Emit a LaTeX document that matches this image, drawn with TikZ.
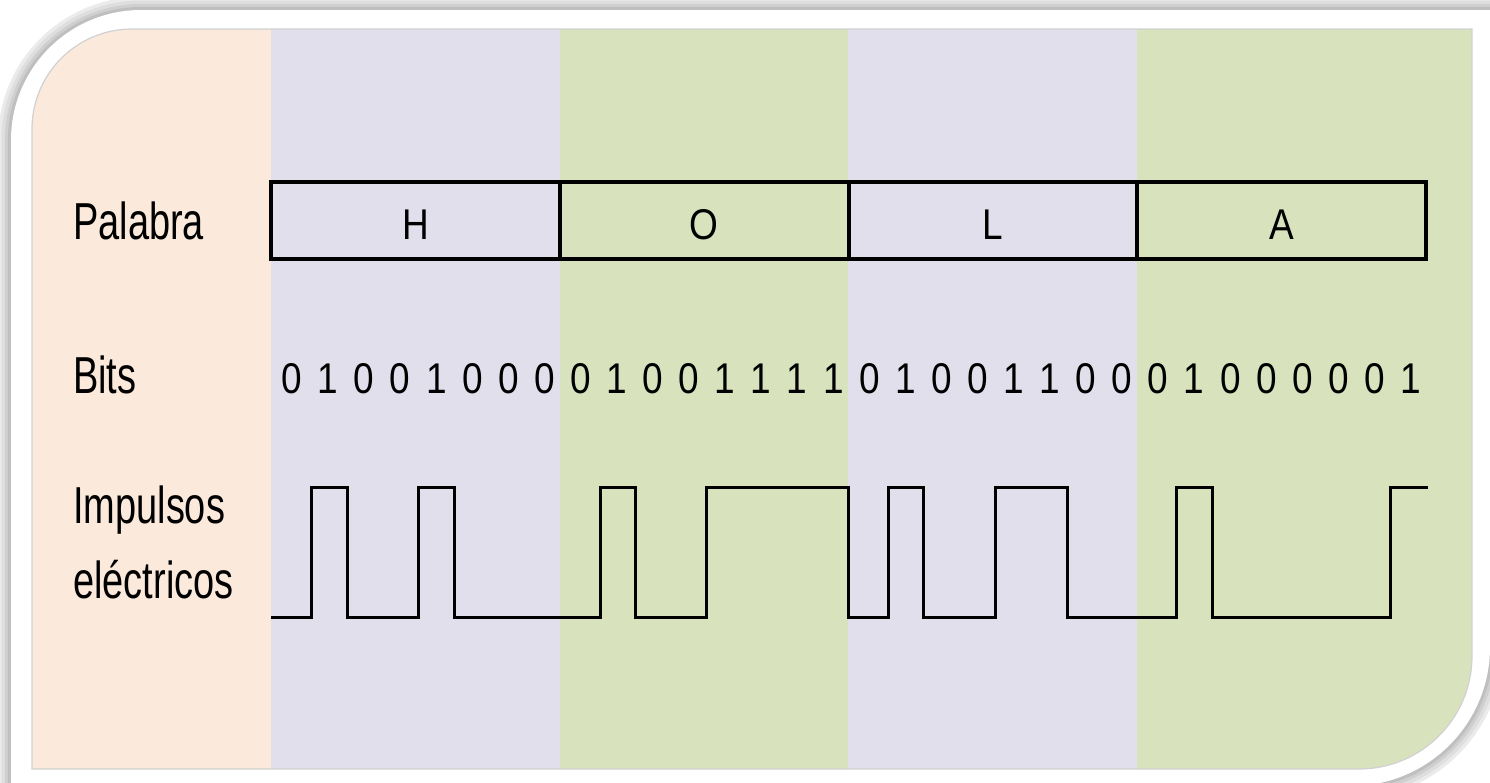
\documentclass[tikz,border=0pt]{standalone}
\usepackage{fontspec}
\setmainfont{Liberation Sans}
\newfontfamily\labelfont[FakeStretch=0.73]{Liberation Sans}
\newfontfamily\boxfont[FakeStretch=0.86]{Liberation Sans}
\usetikzlibrary{positioning}

\definecolor{peach}{HTML}{FBE9DB}
\definecolor{lavender}{HTML}{E2DFEC}
\definecolor{leaf}{HTML}{D8E3BE}

\begin{document}
\begin{tikzpicture}[x=1pt, y=-1pt,
        lbl/.style={font=\labelfont\fontsize{52}{60}\selectfont, anchor=base west, inner sep=0},
        letterbox/.style={draw, line width=4pt, outer sep=0, minimum width=288.75pt,
                minimum height=77pt, inner sep=0, text height=37pt, text depth=0pt,
                font=\boxfont\fontsize{43}{50}\selectfont},
        bit/.style={font=\boxfont\fontsize{43}{50}\selectfont, anchor=base, inner sep=0},
        pulse/.style={line width=3pt}]
        \useasboundingbox (0, 0) rectangle (1490, 782);
        \clip (0, 0) rectangle (1490, 782);

        % soft shadow and white frame
        \foreach \w/\c in {26/8, 19/13, 12/19, 6/25}
                \draw[line width=\w pt, black!\c] (11, 800) -- (11, 140)
                        arc [start angle=180, end angle=270, radius=130] -- (1490, 10) -- (1490, 647)
                        arc [start angle=0, end angle=90, radius=139] -- (1351, 800) -- cycle;
        \fill[white] (11, 800) -- (11, 140)
                arc [start angle=180, end angle=270, radius=130] -- (1490, 10) -- (1490, 647)
                arc [start angle=0, end angle=90, radius=139] -- (1351, 800) -- cycle;

        % coloured columns
        \begin{scope}
                \clip (32, 769) -- (32, 129) arc [start angle=180, end angle=270, radius=100]
                        -- (1472, 29) -- (1472, 656) arc [start angle=0, end angle=90, radius=113] -- cycle;
                \fill[peach] (0, 0) rectangle (271, 782);
                \fill[lavender] (271, 0) rectangle (560, 782);
                \fill[leaf] (560, 0) rectangle (848, 782);
                \fill[lavender] (848, 0) rectangle (1137, 782);
                \fill[leaf] (1137, 0) rectangle (1490, 782);
        \end{scope}
        \draw[black!18, line width=1.2pt] (32, 769) -- (32, 129) arc [start angle=180, end angle=270, radius=100]
                -- (1472, 29) -- (1472, 656) arc [start angle=0, end angle=90, radius=113] -- cycle;

        % row labels
        \node[lbl] (palabra) at (73, 239) {Palabra};
        \node[lbl] (bits) at (73, 393) {Bits};
        \node[lbl] (impulsos) at (73, 523) {Impulsos};
        \node[lbl] (electricos) at ([yshift=-75pt]impulsos.base west) {eléctricos};

        % the word
        \node[letterbox] (H) at (415.6, 220.5) {H};
        \node[letterbox, right=0pt of H] (O) {O};
        \node[letterbox, right=0pt of O] (L) {L};
        \node[letterbox, right=0pt of L] (A) {A};

        % the bits
        \foreach \b [count=\i from 0] in {0,1,0,0,1,0,0,0, 0,1,0,0,1,1,1,1,
                        0,1,0,0,1,1,0,0, 0,1,0,0,0,0,0,1}
                \node[bit] (bit\i) at (292+36.09*\i, 393) {\b};

        % the pulses
        \draw[pulse] (271, 617) -| (311, 487) -| (347, 617) -| (418, 487) -| (454, 617)
                -| (600, 487) -| (635, 617) -| (706, 487) -| (848, 617) -| (888, 487)
                -| (923, 617) -| (995, 487) -| (1067, 617) -| (1176, 487) -| (1212, 617)
                -| (1390, 487) -- (1428, 487);
\end{tikzpicture}
\end{document}
